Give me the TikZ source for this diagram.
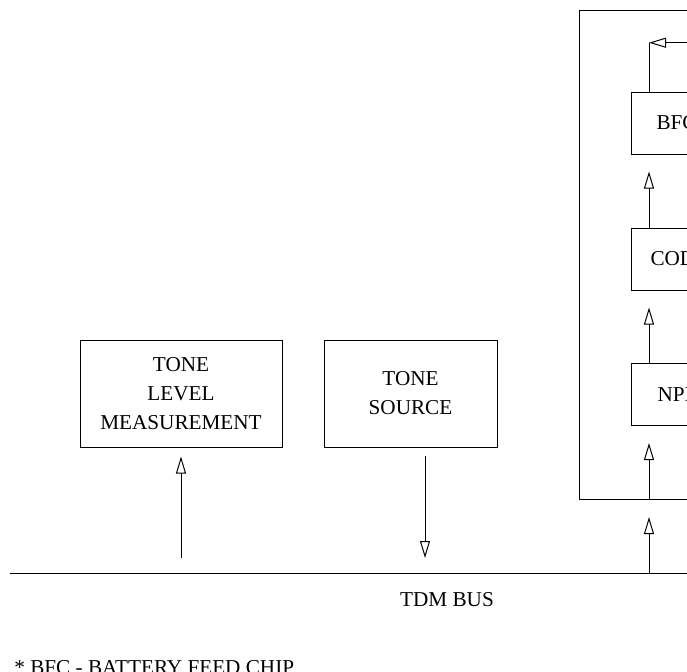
\documentclass[tikz,border=0pt]{standalone}
\usepackage{fontspec}
\setmainfont{Liberation Serif}
\usetikzlibrary{arrows.meta}

\begin{document}
\begin{tikzpicture}[
  x=0.5pt, y=-0.5pt,
  every node/.style={font=\fontsize{10.6}{14.5}\selectfont},
  blk/.style={draw, line width=0.5pt, rectangle, align=center, inner sep=0pt},
  chip/.style={draw, line width=0.5pt, rectangle, anchor=west, minimum height=31pt, inner ysep=0pt},
  arr/.style={line width=0.5pt, -{Triangle[open, length=8.5pt, width=5pt]}},
  wire/.style={line width=0.5pt}
]
\useasboundingbox (0,0) rectangle (687,671);
\clip (0,0) rectangle (687,671);
\node[blk, minimum width=101pt, minimum height=53.5pt] (tlm)  at (181, 393.5) {TONE\\LEVEL\\MEASUREMENT};
\node[blk, minimum width=86.5pt, minimum height=53.5pt] (tsrc) at (410.5, 393.5) {TONE\\SOURCE};
\node[draw, line width=0.5pt, anchor=north west, minimum width=100pt, minimum height=244.5pt, inner sep=0pt] (frame) at (579, 10) {};
\node[chip, inner xsep=12.5pt] (bfc)   at (631, 123)   {BFC};
\node[chip, inner xsep=9.5pt]  (codec) at (631, 259)   {CODEC};
\node[chip, inner xsep=13pt]   (npi)   at (631, 394.5) {NPI};
\coordinate (busl)  at (10, 573);
\coordinate (busr)  at (700, 573);
\coordinate (tlmin) at (181, 558);
\coordinate (tsout) at (425, 558);
\coordinate (busin) at (649, 573);
\coordinate (ret)   at (649, 42.7);
\coordinate (retr)  at (700, 42.7);
\draw[wire] (busl) -- (busr);
\node (tdm) at (447, 600) {TDM BUS};
\draw[arr, shorten >=4.5pt] (tlmin) -- (tlm.south);
\draw[arr, shorten <=4pt] (tsout |- tsrc.south) -- (tsout);
\draw[arr, shorten >=8.5pt] (busin) -- (busin |- frame.south);
\draw[arr, shorten >=8.5pt] (busin |- frame.south) -- (busin |- npi.south);
\draw[arr, shorten >=8.5pt] (busin |- npi.north) -- (busin |- codec.south);
\draw[arr, shorten >=8.5pt] (busin |- codec.north) -- (busin |- bfc.south);
\draw[wire] (busin |- bfc.north) -- (ret);
\draw[arr] (retr) -- (ret);
\node[anchor=base west, inner sep=0pt] (note) at (14, 674) {* BFC - BATTERY FEED CHIP};
\end{tikzpicture}
\end{document}
